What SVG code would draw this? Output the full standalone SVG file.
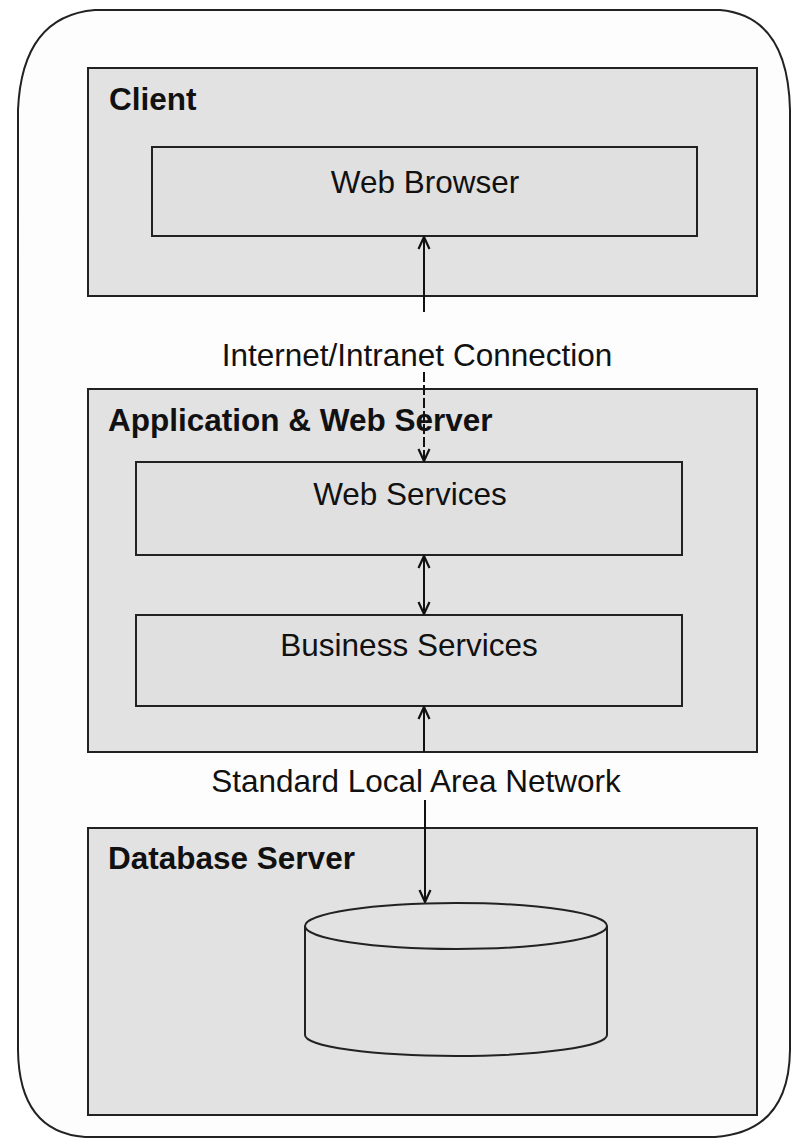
<svg xmlns="http://www.w3.org/2000/svg" width="793" height="1141" viewBox="0 0 793 1141">
<defs>
<style>
.tier{fill:#e2e2e2;stroke:#222;stroke-width:2}
.inner{fill:#e0e0e0;stroke:#222;stroke-width:2}
.lbl{font-family:"Liberation Sans",Arial,sans-serif;font-weight:bold;font-size:31.5px;fill:#111}
.txt{font-family:"Liberation Sans",Arial,sans-serif;font-size:31.5px;fill:#111;text-anchor:middle}
.conn{stroke:#111;stroke-width:2;fill:none}
</style>
<marker id="ah" viewBox="0 0 14 14" refX="13" refY="7" markerWidth="14" markerHeight="14" markerUnits="userSpaceOnUse" orient="auto-start-reverse">
<path d="M1,1.5 L13,7 L1,12.5" fill="none" stroke="#111" stroke-width="2.2"/>
</marker>
</defs>
<rect width="793" height="1141" fill="#ffffff"/>
<path id="frame" d="M95,10 L720,10 Q788,16 790,110 L790,1050 Q789,1132 715,1137 L85,1137 Q19,1132 18,1050 L18,110 Q22,16 95,10 Z" fill="#fdfdfd" stroke="#222" stroke-width="2"/>
<g id="client">
<rect class="tier" x="88" y="68" width="669" height="228"/>
<text class="lbl" x="109" y="110">Client</text>
</g>
<g id="web-browser">
<rect class="inner" x="152" y="147" width="545" height="89"/>
<text class="txt" x="425" y="193">Web Browser</text>
</g>
<text id="internet-label" class="txt" x="417" y="366">Internet/Intranet Connection</text>
<g id="app-server">
<rect class="tier" x="88" y="389" width="669" height="363"/>
<text class="lbl" x="108" y="431">Application &amp; Web Server</text>
</g>
<g id="web-services">
<rect class="inner" x="136" y="462" width="546" height="93"/>
<text class="txt" x="410" y="505">Web Services</text>
</g>
<g id="business-services">
<rect class="inner" x="136" y="615" width="546" height="91"/>
<text class="txt" x="409" y="656">Business Services</text>
</g>
<text id="lan-label" class="txt" x="416" y="792">Standard Local Area Network</text>
<g id="db-server">
<rect class="tier" x="88" y="828" width="669" height="287"/>
<text class="lbl" x="108" y="869">Database Server</text>
</g>
<g id="database">
<path d="M305,926 L305,1035 A151,21 0 0 0 607,1035 L607,926" fill="#e0e0e0" stroke="#222" stroke-width="2"/>
<ellipse cx="456" cy="926" rx="151" ry="23" fill="#e2e2e2" stroke="#222" stroke-width="2"/>
</g>
<g id="connectors">
<line class="conn" x1="424" y1="312" x2="424" y2="237" marker-end="url(#ah)"/>
<line class="conn" x1="424" y1="372" x2="424" y2="461" marker-end="url(#ah)" stroke-dasharray="10,3"/>
<line class="conn" x1="424" y1="556" x2="424" y2="614" marker-start="url(#ah)" marker-end="url(#ah)"/>
<line class="conn" x1="424" y1="752" x2="424" y2="707" marker-end="url(#ah)"/>
<line class="conn" x1="425" y1="800" x2="425" y2="902" marker-end="url(#ah)"/>
</g>
</svg>
